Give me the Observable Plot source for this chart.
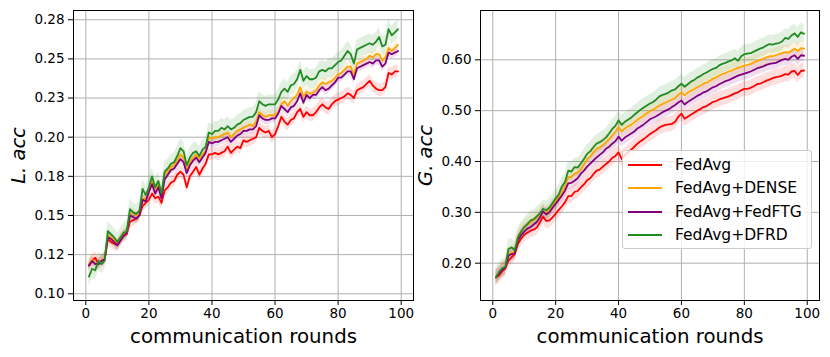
<!DOCTYPE html>
<html>
<head>
<meta charset="utf-8">
<script src="https://cdn.jsdelivr.net/npm/d3@7"></script>
<script src="https://cdn.jsdelivr.net/npm/@observablehq/plot@0.6"></script>
<style>
  body { margin: 0; background: #fff; font-family: "DejaVu Sans", sans-serif; }
  #wrap { position: relative; width: 830px; height: 357px; overflow: hidden; }
  #left, #right { position: absolute; top: 0; }
  #left { left: 0; }
  #right { left: 415px; }
  #legend { position: absolute; left: 622px; top: 150px; width: 188px; height: 97px;
    border: 1px solid #cccccc; border-radius: 3px; background: rgba(255,255,255,0.8); }
  .item { position: absolute; left: 0; height: 20px; display: flex; align-items: center; }
  .swatch { width: 34px; height: 2px; margin-left: 5px; margin-right: 13px; }
  .lab { font-family: "DejaVu Sans", sans-serif; font-size: 15.5px; color: #000; white-space: nowrap; }
</style>
</head>
<body>
<div id="wrap">
  <div id="left"></div>
  <div id="right"></div>
  <div id="legend"></div>
</div>
<script>
// ---- data ----
const methods = ["FedAvg", "FedAvg+DENSE", "FedAvg+FedFTG", "FedAvg+DFRD"];
const colors = ["#ff0000", "#ffa500", "#800080", "#228b22"];
const rounds = d3.range(1, 100);
const xTicks = [0, 20, 40, 60, 80, 100];

const yTicksL = [0.1, 0.125, 0.15, 0.175, 0.2, 0.225, 0.25, 0.275];
const yLabelsL = ["0.10", "0.12", "0.15", "0.18", "0.20", "0.23", "0.25", "0.28"];
const yTicksG = [0.2, 0.3, 0.4, 0.5, 0.6];
const yLabelsG = ["0.20", "0.30", "0.40", "0.50", "0.60"];

// Local accuracy (L. acc)
const L_fedavg = [0.118,0.121,0.123,0.119,0.121,0.122,0.135,0.133,0.132,0.131,0.134,0.137,0.138,0.146,0.147,0.148,0.150,0.156,0.158,0.160,0.164,0.161,0.162,0.158,0.166,0.168,0.171,0.172,0.176,0.178,0.176,0.168,0.175,0.178,0.181,0.176,0.180,0.183,0.189,0.189,0.190,0.189,0.190,0.191,0.194,0.190,0.192,0.194,0.193,0.198,0.197,0.198,0.199,0.200,0.206,0.204,0.203,0.204,0.200,0.202,0.207,0.213,0.210,0.208,0.211,0.212,0.216,0.218,0.213,0.216,0.214,0.214,0.216,0.219,0.221,0.219,0.218,0.221,0.223,0.224,0.225,0.226,0.228,0.227,0.225,0.230,0.231,0.232,0.234,0.236,0.233,0.231,0.230,0.230,0.232,0.241,0.240,0.242,0.242];
const L_dense = [0.119,0.122,0.119,0.120,0.121,0.123,0.137,0.136,0.134,0.132,0.135,0.138,0.139,0.150,0.152,0.150,0.150,0.161,0.160,0.166,0.172,0.166,0.170,0.163,0.176,0.178,0.181,0.182,0.185,0.189,0.187,0.179,0.184,0.187,0.189,0.186,0.189,0.191,0.200,0.199,0.200,0.200,0.201,0.202,0.203,0.200,0.202,0.204,0.205,0.206,0.207,0.208,0.207,0.210,0.216,0.214,0.213,0.214,0.214,0.214,0.216,0.221,0.223,0.220,0.223,0.225,0.227,0.232,0.226,0.229,0.228,0.228,0.230,0.233,0.235,0.234,0.235,0.236,0.238,0.240,0.241,0.243,0.245,0.245,0.240,0.247,0.248,0.249,0.250,0.252,0.251,0.253,0.253,0.249,0.251,0.257,0.255,0.257,0.259];
const L_fedftg = [0.118,0.121,0.119,0.119,0.121,0.122,0.136,0.135,0.133,0.131,0.134,0.137,0.139,0.150,0.149,0.148,0.150,0.160,0.159,0.165,0.170,0.164,0.168,0.161,0.173,0.176,0.179,0.180,0.183,0.186,0.184,0.177,0.182,0.185,0.187,0.184,0.187,0.190,0.197,0.196,0.197,0.197,0.198,0.199,0.200,0.197,0.199,0.201,0.202,0.204,0.204,0.205,0.205,0.207,0.214,0.212,0.211,0.211,0.212,0.212,0.215,0.220,0.218,0.216,0.219,0.220,0.223,0.228,0.222,0.227,0.225,0.227,0.227,0.230,0.232,0.230,0.231,0.233,0.235,0.238,0.238,0.240,0.242,0.242,0.237,0.244,0.245,0.246,0.247,0.248,0.247,0.249,0.249,0.245,0.247,0.254,0.253,0.254,0.255];
const L_dfrd = [0.111,0.116,0.115,0.121,0.119,0.121,0.140,0.138,0.136,0.133,0.136,0.139,0.140,0.154,0.152,0.151,0.153,0.167,0.163,0.168,0.175,0.168,0.172,0.164,0.178,0.180,0.183,0.184,0.188,0.193,0.191,0.182,0.187,0.190,0.191,0.188,0.192,0.194,0.203,0.202,0.204,0.204,0.206,0.205,0.207,0.205,0.206,0.208,0.209,0.211,0.212,0.213,0.213,0.216,0.223,0.221,0.220,0.221,0.221,0.221,0.224,0.229,0.231,0.229,0.233,0.234,0.237,0.243,0.236,0.239,0.237,0.237,0.238,0.242,0.243,0.242,0.244,0.244,0.246,0.248,0.249,0.252,0.255,0.253,0.247,0.256,0.257,0.258,0.259,0.260,0.259,0.261,0.264,0.258,0.259,0.269,0.265,0.267,0.269];
const spreadL = [0.004, 0.003, 0.003, 0.006];

// Global accuracy (G. acc)
const G_fedavg = [0.172,0.176,0.184,0.190,0.205,0.212,0.218,0.238,0.248,0.256,0.260,0.264,0.266,0.270,0.280,0.292,0.283,0.284,0.290,0.297,0.305,0.312,0.320,0.332,0.332,0.340,0.342,0.349,0.355,0.363,0.367,0.375,0.382,0.384,0.390,0.395,0.400,0.407,0.411,0.418,0.405,0.412,0.418,0.423,0.429,0.435,0.440,0.444,0.449,0.454,0.458,0.462,0.467,0.470,0.472,0.473,0.474,0.478,0.488,0.494,0.484,0.488,0.492,0.496,0.500,0.503,0.507,0.509,0.513,0.517,0.519,0.522,0.524,0.526,0.528,0.531,0.534,0.536,0.540,0.543,0.543,0.545,0.548,0.552,0.553,0.556,0.559,0.561,0.564,0.566,0.567,0.569,0.572,0.571,0.577,0.578,0.570,0.578,0.579];
const G_dense = [0.172,0.181,0.188,0.192,0.218,0.220,0.224,0.252,0.262,0.270,0.276,0.280,0.285,0.289,0.296,0.302,0.299,0.305,0.313,0.322,0.330,0.340,0.352,0.369,0.370,0.376,0.378,0.384,0.394,0.405,0.410,0.418,0.425,0.428,0.432,0.438,0.444,0.451,0.458,0.468,0.459,0.465,0.469,0.472,0.477,0.482,0.486,0.490,0.495,0.499,0.502,0.506,0.510,0.513,0.516,0.519,0.522,0.525,0.531,0.536,0.530,0.535,0.539,0.542,0.546,0.549,0.553,0.555,0.559,0.563,0.565,0.569,0.572,0.574,0.577,0.579,0.582,0.584,0.586,0.589,0.590,0.592,0.595,0.598,0.600,0.602,0.605,0.607,0.607,0.609,0.611,0.613,0.615,0.614,0.618,0.622,0.617,0.623,0.622];
const G_fedftg = [0.172,0.180,0.187,0.191,0.215,0.218,0.219,0.245,0.255,0.262,0.268,0.271,0.276,0.281,0.290,0.302,0.296,0.300,0.309,0.317,0.325,0.333,0.343,0.357,0.358,0.362,0.367,0.376,0.382,0.390,0.396,0.402,0.408,0.413,0.418,0.425,0.429,0.435,0.440,0.449,0.441,0.447,0.451,0.455,0.459,0.465,0.469,0.473,0.478,0.483,0.486,0.489,0.493,0.497,0.500,0.503,0.507,0.511,0.516,0.520,0.512,0.517,0.521,0.525,0.529,0.532,0.536,0.538,0.542,0.546,0.548,0.552,0.555,0.558,0.560,0.563,0.566,0.569,0.571,0.573,0.575,0.577,0.580,0.583,0.585,0.587,0.590,0.592,0.593,0.594,0.597,0.600,0.602,0.600,0.606,0.609,0.602,0.609,0.608];
const G_dfrd = [0.172,0.183,0.190,0.193,0.228,0.231,0.225,0.250,0.262,0.271,0.277,0.284,0.286,0.292,0.298,0.307,0.304,0.309,0.318,0.327,0.335,0.351,0.360,0.382,0.380,0.389,0.388,0.396,0.405,0.415,0.420,0.428,0.435,0.438,0.442,0.447,0.455,0.464,0.470,0.481,0.472,0.478,0.482,0.486,0.492,0.497,0.502,0.506,0.510,0.514,0.517,0.522,0.528,0.531,0.533,0.536,0.540,0.542,0.548,0.553,0.547,0.552,0.557,0.560,0.565,0.568,0.572,0.575,0.579,0.582,0.584,0.589,0.592,0.594,0.597,0.599,0.603,0.598,0.607,0.611,0.612,0.613,0.616,0.619,0.622,0.624,0.628,0.631,0.630,0.632,0.633,0.636,0.643,0.641,0.648,0.652,0.645,0.654,0.651];
const spreadG = [0.015, 0.014, 0.013, 0.018];

// ---- drawing ----
function makePlot({accs, spreads, yDomain, yTicks, yLabels, ylabel, width, marginLeft, marginRight, labelDx}) {
  const data = [];
  methods.forEach((m, i) => accs[i].forEach((v, j) =>
    data.push({round: rounds[j], method: m, acc: v, lo: v - spreads[i], hi: v + spreads[i]})));
  return Plot.plot({
    width, height: 357, marginTop: 10, marginBottom: 57, marginLeft, marginRight,
    style: {fontFamily: "DejaVu Sans", fontSize: "13.5px", color: "#000", background: "transparent", overflow: "visible"},
    x: {domain: [-3.9, 103.9], ticks: xTicks, tickSize: 5, tickPadding: 3, label: null},
    y: {domain: yDomain, ticks: yTicks, tickFormat: d => yLabels[yTicks.indexOf(d)], tickSize: 5, tickPadding: 4, label: null},
    color: {domain: methods, range: colors},
    marks: [
      Plot.gridX(xTicks, {stroke: "#b0b0b0", strokeOpacity: 1, strokeWidth: 1}),
      Plot.gridY(yTicks, {stroke: "#b0b0b0", strokeOpacity: 1, strokeWidth: 1}),
      Plot.areaY(data, {x: "round", y1: "lo", y2: "hi", fill: "method", fillOpacity: 0.13}),
      Plot.lineY(data, {x: "round", y: "acc", stroke: "method", strokeWidth: 1.8}),
      Plot.frame({stroke: "#000", strokeWidth: 1}),
      Plot.text([ylabel], {text: d => d, frameAnchor: "left", dx: labelDx, rotate: -90,
        textAnchor: "middle", lineAnchor: "middle", fontSize: 19.5, fontStyle: "italic"}),
      Plot.text(["communication rounds"], {text: d => d, frameAnchor: "bottom", dy: 36,
        textAnchor: "middle", lineAnchor: "middle", fontSize: 19.8})
    ]
  });
}

document.getElementById("left").append(makePlot({
  accs: [L_fedavg, L_dense, L_fedftg, L_dfrd], spreads: spreadL,
  yDomain: [0.0957, 0.2809], yTicks: yTicksL, yLabels: yLabelsL, ylabel: "L. acc",
  width: 415, marginLeft: 73, marginRight: 2, labelDx: -55
}));
document.getElementById("right").append(makePlot({
  accs: [G_fedavg, G_dense, G_fedftg, G_dfrd], spreads: spreadG,
  yDomain: [0.1266, 0.697], yTicks: yTicksG, yLabels: yLabelsG, ylabel: "G. acc",
  width: 415, marginLeft: 65, marginRight: 11, labelDx: -55
}));

const legend = document.getElementById("legend");
methods.forEach((m, i) => {
  const row = document.createElement("div");
  row.className = "item";
  row.style.top = (4 + i * 23.3) + "px";
  const sw = document.createElement("div");
  sw.className = "swatch";
  sw.style.background = colors[i];
  const lab = document.createElement("span");
  lab.className = "lab";
  lab.textContent = m;
  row.append(sw, lab);
  legend.append(row);
});
</script>
</body>
</html>
